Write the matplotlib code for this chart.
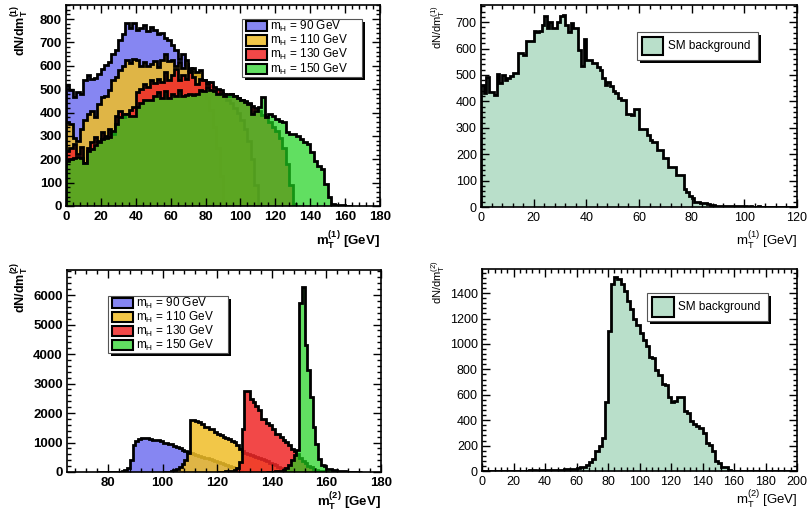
import numpy as np
import matplotlib
matplotlib.use('Agg')
import matplotlib.pyplot as plt
from matplotlib.patches import Rectangle
from matplotlib.ticker import MultipleLocator

plt.rcParams['font.family'] = ['Liberation Sans', 'DejaVu Sans']
plt.rcParams['mathtext.default'] = 'regular'

W, H = 807, 516

# m_T^(1) signal, 2 GeV bins from 0 GeV
mt1_h90 = [516, 495, 466, 487, 480, 537, 559, 545, 548, 566, 588, 602, 616, 652, 667, 710, 738, 781, 760, 781,
           753, 760, 774, 750, 767, 755, 738, 742, 717, 710, 688, 667, 631, 650, 609, 590, 575, 560, 530, 500,
           460, 410, 340, 250, 130, 20]
mt1_h110 = [358, 350, 290, 280, 330, 366, 394, 408, 380, 437, 466, 470, 495, 537, 552, 580, 600, 624, 610, 631,
            625, 600, 616, 600, 609, 620, 595, 624, 652, 620, 625, 600, 616, 590, 624, 580, 590, 575, 580, 537,
            530, 515, 500, 490, 480, 470, 455, 440, 420, 400, 370, 330, 280, 200, 90, 10]
mt1_h130 = [237, 250, 265, 222, 251, 185, 250, 272, 294, 280, 315, 300, 330, 310, 387, 408, 380, 394, 410, 423,
            487, 500, 523, 510, 537, 525, 545, 530, 573, 537, 560, 588, 540, 559, 545, 573, 550, 523, 545, 537,
            523, 530, 509, 500, 495, 480, 470, 480, 470, 460, 455, 450, 440, 430, 420, 405, 390, 380, 360, 340,
            320, 290, 250, 180, 90, 10]
mt1_h150 = [194, 200, 205, 208, 205, 182, 237, 245, 260, 272, 285, 290, 294, 320, 351, 380, 394, 394, 387, 387,
            423, 440, 452, 452, 452, 470, 487, 460, 490, 460, 480, 470, 495, 470, 473, 480, 473, 480, 495, 490,
            509, 495, 490, 480, 485, 470, 480, 480, 470, 460, 452, 445, 437, 394, 408, 423, 466, 380, 394, 385,
            373, 365, 358, 315, 308, 308, 300, 287, 275, 265, 230, 194, 170, 158, 93, 40, 7, 5, 4, 3, 2, 1]

# m_T^(1) SM background, 1 GeV bins from 0 GeV
mt1_bkg = [462, 430, 491, 437, 437, 424, 504, 469, 501, 482, 490, 497, 506, 509, 582, 582, 576, 627, 627, 627,
           668, 662, 668, 690, 725, 677, 700, 677, 677, 700, 724, 727, 690, 662, 696, 677, 677, 595, 535, 635,
           557, 557, 545, 545, 530, 520, 489, 463, 475, 457, 440, 430, 411, 405, 405, 354, 354, 348, 373, 373,
           297, 297, 297, 272, 253, 248, 248, 216, 216, 184, 184, 153, 153, 153, 120, 120, 120, 70, 57, 40,
           33, 20, 18, 16, 16, 14, 10, 7, 6, 5, 4, 3, 3, 4, 3, 2, 3, 2, 2, 3,
           2, 1, 2, 1, 1, 2, 1, 1, 1, 0, 1, 1, 0, 1, 0, 1, 0, 0, 1, 0]

# m_T^(2) signal, 1 GeV bins, first bin edge given separately
mt2_h90_start = 76
mt2_h90 = [1, 2, 3, 4, 5, 8, 10, 12, 15, 20, 60, 120, 400, 900, 1050, 1130, 1150, 1155, 1150, 1130,
           1100, 1090, 1075, 1050, 1000, 980, 962, 940, 880, 860, 800, 760, 720, 680, 640, 600, 580, 550, 520, 490,
           460, 430, 400, 370, 340, 310, 280, 240, 200, 160, 120, 80, 40, 10]
mt2_h110_start = 100
mt2_h110 = [5, 10, 15, 30, 60, 100, 170, 280, 420, 650, 1750, 1755, 1740, 1700, 1620, 1530, 1530, 1450, 1450, 1360,
            1300, 1270, 1190, 1150, 1110, 1060, 1020, 906, 790, 700, 650, 600, 560, 530, 500, 470, 440, 400, 360, 320,
            280, 230, 180, 130, 80, 50, 25, 10]
mt2_h130_start = 120
mt2_h130 = [5, 8, 12, 20, 30, 50, 80, 150, 350, 1470, 2750, 2750, 2490, 2377, 2240, 2094, 1811, 1800, 1670, 1600,
            1470, 1300, 1300, 1190, 1100, 1020, 906, 790, 700, 600, 480, 380, 300, 220, 160, 110, 70, 40, 20, 10, 5]
mt2_h150_start = 138
mt2_h150 = [5, 8, 10, 20, 30, 50, 80, 150, 250, 400, 560, 740, 5740, 6280, 4300, 3450, 2550, 1530, 960, 450,
            230, 220, 115, 110, 60, 55, 50, 30, 20, 12, 8, 5, 3, 2, 1]

# m_T^(2) SM background, 2 GeV bins from 0 GeV
mt2_bkg = [0, 0, 0, 1, 0, 1, 1, 2, 1, 2, 2, 3, 2, 3, 3, 4, 4, 3, 5, 5,
           6, 6, 8, 8, 10, 10, 12, 13, 15, 18, 20, 30, 35, 48, 67, 93, 154, 194, 260, 546,
           1100, 1472, 1525, 1512, 1472, 1419, 1339, 1273, 1193, 1153, 1086, 1033, 980, 900, 887, 793, 753, 687, 674, 580,
           540, 554, 580, 580, 474, 460, 394, 367, 354, 341, 301, 221, 208, 154, 75, 61, 35, 35, 8, 2,
           0, 0, 0, 0, 0, 0, 0, 0, 0, 0, 0, 0, 0, 0, 0, 0, 0, 0, 0, 0]

mh_labels = ['m$_H$ = 90 GeV', 'm$_H$ = 110 GeV', 'm$_H$ = 130 GeV', 'm$_H$ = 150 GeV']
sig_colors = ['#4646eb', '#f0be28', '#f02828', '#1ed21e']
sig_alpha = [0.65, 0.85, 0.85, 0.7]
bkg_color = '#b9dfca'


def add_axes(fig, x0, y0, x1, y1):
    return fig.add_axes([x0 / W, 1 - y1 / H, (x1 - x0) / W, (y1 - y0) / H])


def style(ax, xlim, ylim, xmaj, xmin, ymaj, ymin, bold):
    ax.set_xlim(*xlim)
    ax.set_ylim(*ylim)
    ax.xaxis.set_major_locator(MultipleLocator(xmaj))
    ax.xaxis.set_minor_locator(MultipleLocator(xmin))
    ax.yaxis.set_major_locator(MultipleLocator(ymaj))
    ax.yaxis.set_minor_locator(MultipleLocator(ymin))
    size = 9.5 if bold else 9
    ax.tick_params(which='both', direction='in', top=True, right=True, width=1, labelsize=size)
    ax.tick_params(which='major', length=6)
    ax.tick_params(which='minor', length=3)
    ax.tick_params(axis='x', pad=3.5)
    ax.tick_params(axis='y', pad=3)
    for s in ax.spines.values():
        s.set_linewidth(1.2)
    if bold:
        plt.setp(ax.get_xticklabels() + ax.get_yticklabels(), fontweight='bold')


def hist(ax, lo, bw, vals, color, alpha):
    edges = lo + bw * np.arange(len(vals) + 1)
    ax.stairs(vals, edges, fill=True, color=color, alpha=alpha, lw=0)
    ax.stairs(vals, edges, color='black', lw=2)


def rect(fig, x0, y0, x1, y1, **kw):
    r = Rectangle((x0 / W, 1 - y1 / H), (x1 - x0) / W, (y1 - y0) / H,
                  transform=fig.transFigure, **kw)
    fig.add_artist(r)


def legend(fig, box, rows, sw_x, text_x, sw_h, entries):
    x0, y0, x1, y1 = box
    rect(fig, x0 + 3, y0 + 3, x1 + 3, y1 + 3, facecolor='black', edgecolor='none')
    rect(fig, x0, y0, x1, y1, facecolor='white', edgecolor='#555555', lw=0.8)
    for yc, (label, color, alpha) in zip(rows, entries):
        rect(fig, sw_x[0], yc - sw_h / 2, sw_x[1], yc + sw_h / 2, facecolor='white', edgecolor='none')
        rect(fig, sw_x[0], yc - sw_h / 2, sw_x[1], yc + sw_h / 2, facecolor=color, alpha=alpha, edgecolor='none')
        rect(fig, sw_x[0], yc - sw_h / 2, sw_x[1], yc + sw_h / 2, facecolor='none', edgecolor='black', lw=1.5)
        fig.text(text_x / W, 1 - yc / H, label, fontsize=8.5, va='center', ha='left')


def labels(fig, xl, xl_pos, xl_size, yl, yl_pos, yl_size, weight):
    fig.text(xl_pos[0] / W, 1 - xl_pos[1] / H, xl, fontsize=xl_size, fontweight=weight, ha='right', va='top')
    fig.text(yl_pos[0] / W, 1 - yl_pos[1] / H, yl, fontsize=yl_size, fontweight=weight, rotation=90,
             ha='center', va='top')


fig = plt.figure(figsize=(W / 100, H / 100), dpi=100)

# top left: m_T^(1) for the four Higgs masses
ax1 = add_axes(fig, 66, 5, 380, 206)
for vals, c, a in zip([mt1_h90, mt1_h110, mt1_h130, mt1_h150], sig_colors, sig_alpha):
    hist(ax1, 0, 2, vals, c, a)
style(ax1, (0, 180), (0, 860), 20, 4, 100, 20, True)
legend(fig, (242, 19, 362, 77), [26, 40.5, 54.5, 69], (245.5, 266.5), 270, 10,
       list(zip(mh_labels, sig_colors, sig_alpha)))
labels(fig, 'm$_T^{(1)}$ [GeV]', (380, 229), 9.5, 'dN/dm$_T^{(1)}$', (20, 5), 9, 'bold')

# top right: m_T^(1) SM background
ax2 = add_axes(fig, 481, 5, 797, 207)
hist(ax2, 0, 1, mt1_bkg, bkg_color, 1.0)
style(ax2, (0, 120), (0, 765), 20, 4, 100, 20, False)
legend(fig, (637, 32, 758, 60), [46], (642, 663), 668, 18, [('SM background', bkg_color, 1.0)])
labels(fig, 'm$_T^{(1)}$ [GeV]', (797, 229), 9.5, 'dN/dm$_T^{(1)}$', (438, 5), 8, 'normal')

# bottom left: m_T^(2) for the four Higgs masses
ax3 = add_axes(fig, 67, 270, 381, 472)
for lo, vals, c, a in zip([mt2_h90_start, mt2_h110_start, mt2_h130_start, mt2_h150_start],
                          [mt2_h90, mt2_h110, mt2_h130, mt2_h150], sig_colors, sig_alpha):
    hist(ax3, lo, 1, vals, c, a)
style(ax3, (65, 180), (0, 6850), 20, 4, 1000, 200, True)
legend(fig, (108, 296, 228, 353), [303, 317, 331, 345], (111.5, 132.5), 136, 10,
       list(zip(mh_labels, sig_colors, sig_alpha)))
labels(fig, 'm$_T^{(2)}$ [GeV]', (381, 490), 9.5, 'dN/dm$_T^{(2)}$', (20, 262), 9, 'bold')

# bottom right: m_T^(2) SM background
ax4 = add_axes(fig, 482, 269, 797, 471)
hist(ax4, 0, 2, mt2_bkg, bkg_color, 1.0)
style(ax4, (0, 200), (0, 1590), 20, 4, 200, 40, False)
legend(fig, (647, 293, 768, 321), [307], (652, 674), 678, 20, [('SM background', bkg_color, 1.0)])
labels(fig, 'm$_T^{(2)}$ [GeV]', (797, 488), 9.5, 'dN/dm$_T^{(2)}$', (438, 260), 8, 'normal')

fig.savefig('out.png', dpi=100)
